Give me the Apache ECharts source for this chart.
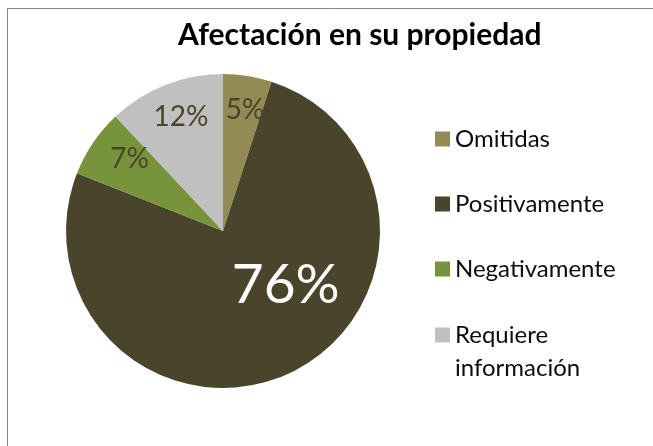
<!DOCTYPE html>
<html>
<head>
<meta charset="utf-8">
<script src="https://cdn.jsdelivr.net/npm/echarts@6/dist/echarts.min.js"></script>
<style>html,body{margin:0;padding:0;background:#fff}#c{width:653px;height:446px}</style>
</head>
<body>
<div id="c"></div>
<script>
const titleText = 'Afectación en su propiedad';
const categories = ['Omitidas', 'Positivamente', 'Negativamente', 'Requiere información'];
const legendLabels = ['Omitidas', 'Positivamente', 'Negativamente', '\nRequiere\ninformación'];
const values = [5, 76, 7, 12];
const colors = ['#948A54', '#4A452A', '#77933C', '#C0C0C0'];

const FONT = 'Lato';
const chart = echarts.init(document.getElementById('c'), null, {renderer: 'canvas'});

const mainData = categories.map((n, i) => ({
  name: n, value: values[i],
  itemStyle: {color: colors[i]},
  label: {show: i === 1}
}));
const ringData = categories.map((n, i) => ({
  name: n, value: values[i],
  label: {show: i !== 1}
}));

const legendTops = [122.5, 187.5, 252.5, 285.5];
const legends = categories.map((n, i) => ({
  data: [n],
  orient: 'vertical',
  left: 435,
  top: legendTops[i],
  padding: 0,
  itemWidth: 15,
  itemHeight: 15,
  itemGap: 7,
  icon: 'rect',
  selectedMode: false,
  formatter: () => legendLabels[i],
  textStyle: {fontFamily: FONT, fontSize: 24, color: '#0D0D0D', lineHeight: 33}
}));

const ringShift = [[3, 0], [0, 0], [8, -3], [3, 0]];

chart.setOption({
  animation: false,
  title: {
    text: titleText,
    left: 178,
    top: 20,
    padding: 0,
    textStyle: {fontFamily: FONT, fontWeight: 'bold', fontSize: 30, color: '#000'}
  },
  legend: legends,
  graphic: [{
    type: 'rect', silent: true,
    shape: {x: 7.5, y: 8.5, width: 700, height: 500},
    style: {fill: 'none', stroke: '#868686', lineWidth: 1}
  }],
  series: [{
    type: 'pie',
    center: [223, 231],
    radius: [0, 157],
    startAngle: 90,
    clockwise: true,
    silent: true,
    avoidLabelOverlap: false,
    itemStyle: {borderWidth: 0},
    label: {
      position: 'inside', formatter: '{d}%',
      fontFamily: FONT, fontSize: 55, color: '#FFFFFF'
    },
    labelLine: {show: false},
    labelLayout: function (p) { return p.dataIndex === 1 ? {dx: 28, dy: -19} : {}; },
    emphasis: {disabled: true},
    data: mainData
  }, {
    type: 'pie',
    center: [223, 231],
    radius: [82, 157],
    startAngle: 90,
    clockwise: true,
    silent: true,
    avoidLabelOverlap: false,
    itemStyle: {color: 'rgba(0,0,0,0)', borderWidth: 0},
    label: {
      position: 'inside', formatter: '{d}%',
      fontFamily: FONT, fontSize: 28, color: '#4A452A'
    },
    labelLine: {show: false},
    labelLayout: function (p) { return {dx: ringShift[p.dataIndex][0], dy: ringShift[p.dataIndex][1]}; },
    emphasis: {disabled: true},
    data: ringData
  }]
});
</script>
</body>
</html>
